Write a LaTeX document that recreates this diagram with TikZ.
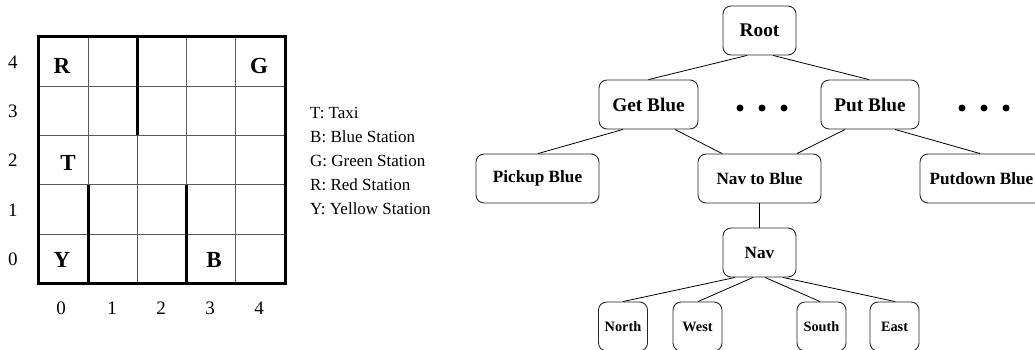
\documentclass[tikz,border=0pt]{standalone}
\usepackage{fontspec}
\setmainfont{Liberation Serif}
\begin{document}
\begin{tikzpicture}[x=1pt,y=-1pt,
  tbox/.style={draw=black!85, line width=0.9pt, rounded corners=8pt, inner sep=0pt, minimum height=49pt, font=\bfseries\fontsize{17.2}{17.2}\selectfont},
  lvlone/.style={tbox, font=\bfseries\fontsize{19.3}{19.3}\selectfont},
  leaf/.style={tbox, minimum width=49pt, font=\bfseries\fontsize{14.3}{14.3}\selectfont},
  edge/.style={draw=black, line width=0.8pt},
  dot/.style={circle, fill=black, inner sep=0pt, minimum size=7pt},
  cellletter/.style={font=\bfseries\fontsize{23}{23}\selectfont, inner sep=0pt},
  axisnum/.style={font=\fontsize{19}{19}\selectfont, inner sep=0pt},
  legend/.style={font=\fontsize{17}{17}\selectfont, anchor=base west, inner sep=0pt},
  thin grid/.style={draw=black!65, line width=0.9pt},
  wall/.style={draw=black, line width=3pt}
]
\useasboundingbox (0,0) rectangle (1035,349);
\clip (0,0) rectangle (1035,349);

% ---------- grid ----------
\foreach \gx in {88.3,137.3,186,235.7} \draw[thin grid] (\gx,36.5) -- (\gx,283);
\foreach \gy in {86,135.3,184.7,234} \draw[thin grid] (38.5,\gy) -- (285,\gy);
\draw[wall] (137.3,36.5) -- (137.3,135.3);
\draw[wall] (88.3,184.7) -- (88.3,283);
\draw[wall] (186,184.7) -- (186,283);
\draw[wall] (38.5,36.5) rectangle (285,283);

\node[cellletter] (cR) at (62,66) {R};
\node[cellletter] (cG) at (259,66) {G};
\node[cellletter] (cT) at (68,163) {T};
\node[cellletter] (cY) at (62,260) {Y};
\node[cellletter] (cB) at (214,260) {B};

\node[axisnum] (r4) at (13,62) {4};
\node[axisnum] (r3) at (13,111) {3};
\node[axisnum] (r2) at (13,160) {2};
\node[axisnum] (r1) at (13,210) {1};
\node[axisnum] (r0) at (13,259) {0};
\node[axisnum] (k0) at (61,308) {0};
\node[axisnum] (k1) at (112,308) {1};
\node[axisnum] (k2) at (161,308) {2};
\node[axisnum] (k3) at (210,308) {3};
\node[axisnum] (k4) at (259,308) {4};

% ---------- legend ----------
\node[legend] (lT) at (310,118.5) {T: Taxi};
\node[legend] (lB) at (310,142.5) {B: Blue Station};
\node[legend] (lG) at (310,166.5) {G: Green Station};
\node[legend] (lR) at (310,190.5) {R: Red Station};
\node[legend] (lY) at (310,214.5) {Y: Yellow Station};

% ---------- tree ----------
\node[lvlone, minimum width=73pt] (root) at (759.5,30.5) {Root};
\node[lvlone, minimum width=99pt] (get) at (648.5,104.5) {Get Blue};
\node[lvlone, minimum width=98pt] (put) at (870,104.5) {Put Blue};
\node[tbox, minimum width=123pt] (pickup) at (537.5,178.5) {Pickup Blue};
\node[tbox, minimum width=123pt] (navto) at (759.5,178.5) {Nav to Blue};
\node[tbox, minimum width=123pt] (putdown) at (981.5,178.5) {Putdown Blue};
\node[tbox, minimum width=73pt] (nav) at (759.5,252.5) {Nav};
\node[leaf] (north) at (623,326.5) {North};
\node[leaf] (west) at (697.5,326.5) {West};
\node[leaf] (south) at (821.5,326.5) {South};
\node[leaf] (east) at (894.5,326.5) {East};

\node[dot] (da1) at (740,108) {};
\node[dot] (da2) at (762,108) {};
\node[dot] (da3) at (784,108) {};
\node[dot] (db1) at (962,108) {};
\node[dot] (db2) at (984,108) {};
\node[dot] (db3) at (1006,108) {};

\draw[edge] ([xshift=-12.5pt]root.south) -- (get.north);
\draw[edge] ([xshift=13.5pt]root.south) -- ([xshift=-1pt]put.north);
\draw[edge] ([xshift=-25.5pt]get.south) -- ([xshift=0.5pt]pickup.north);
\draw[edge] ([xshift=26.5pt]get.south) -- ([xshift=-37.5pt]navto.north);
\draw[edge] ([xshift=-25pt]put.south) -- ([xshift=37.5pt]navto.north);
\draw[edge] ([xshift=25pt]put.south) -- ([xshift=-1.5pt]putdown.north);
\draw[edge] (navto.south) -- (nav.north);
\draw[edge] ([xshift=-24.5pt]nav.south) -- (north.north);
\draw[edge] ([xshift=-6.5pt]nav.south) -- ([xshift=0.5pt]west.north);
\draw[edge] ([xshift=5.5pt]nav.south) -- ([xshift=-1.5pt]south.north);
\draw[edge] ([xshift=23.5pt]nav.south) -- ([xshift=0.5pt]east.north);
\end{tikzpicture}
\end{document}
